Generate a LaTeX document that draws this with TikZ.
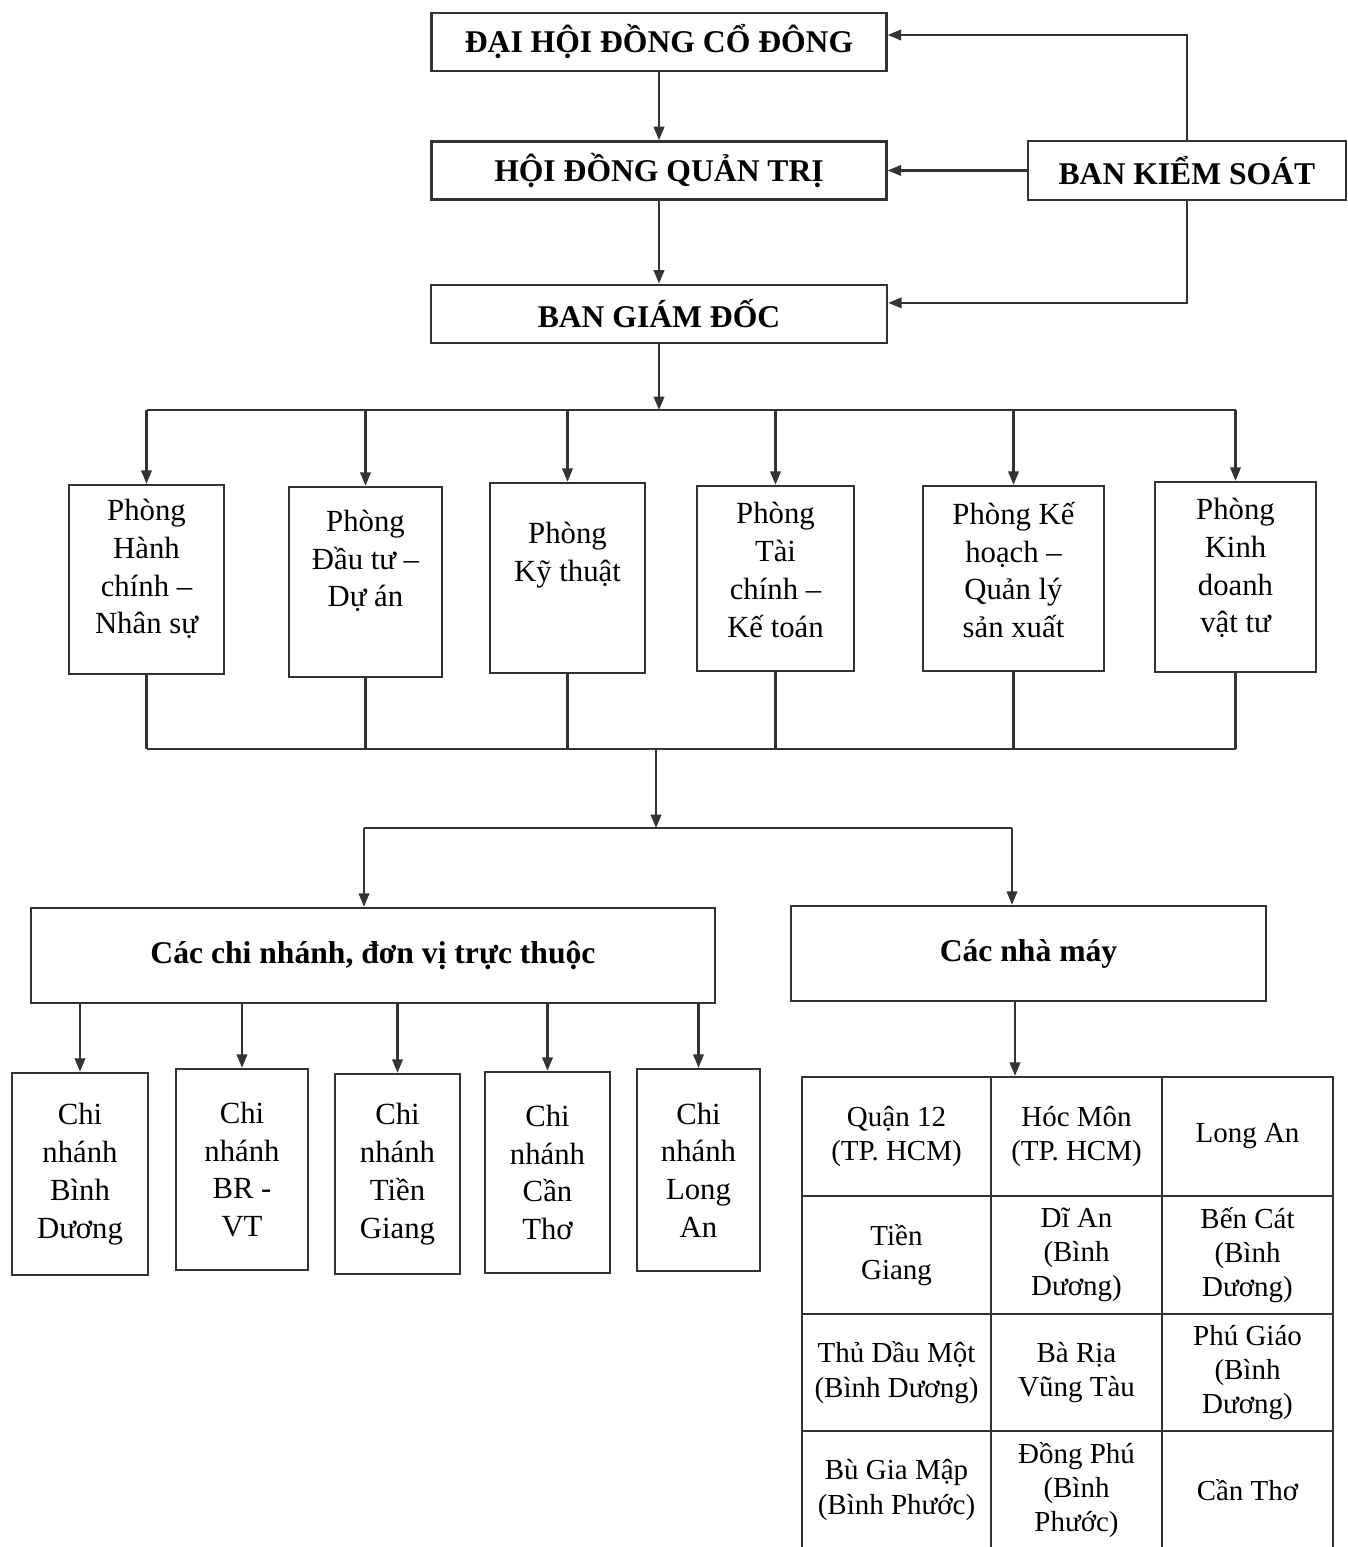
\documentclass[tikz,border=0pt]{standalone}
\usepackage{fontspec}
\setmainfont{Liberation Serif}
\usetikzlibrary{positioning, arrows.meta}

\begin{document}
\begin{tikzpicture}[x=0.02cm, y=-0.02cm]
        % Styles des noeuds
        \tikzstyle{titre} = [rectangle, draw=black!80, line width=1.4pt, minimum height=1.16cm, inner sep=0pt, font=\bfseries\fontsize{18}{21}\selectfont]
        \tikzstyle{dept} = [rectangle, draw=black!80, line width=1.4pt, inner sep=0pt]
        \tikzstyle{texte} = [align=center, inner sep=0pt, font=\fontsize{17.5}{21.5}\selectfont]
        \tikzstyle{branche} = [rectangle, draw=black!80, line width=1.4pt, inner sep=0pt, align=center, font=\fontsize{17.5}{21.5}\selectfont]
        \tikzstyle{cellule} = [rectangle, draw=black!80, line width=1.3pt, inner sep=0pt, align=center, font=\fontsize{16.5}{19.5}\selectfont]
        \tikzstyle{arrow} = [draw=black!80, line width=1.3pt, -{Triangle[length=0.27cm, width=0.21cm]}]
        \tikzstyle{trait} = [draw=black!80, line width=1.3pt]

        \useasboundingbox (0,0) rectangle (1347,1547);

        % Direction
        \node (dhcd) [titre, minimum width=9.1cm] at (659,42) {ĐẠI HỘI ĐỒNG CỔ ĐÔNG};
        \node (hdqt) [titre, minimum width=9.1cm, below=1.36cm of dhcd] {HỘI ĐỒNG QUẢN TRỊ};
        \node (bgd) [titre, minimum width=9.12cm, below=1.66cm of hdqt] {BAN GIÁM ĐỐC};
        \node (bks) [titre, minimum width=6.36cm, minimum height=1.18cm, right=2.78cm of hdqt] {BAN KIỂM SOÁT};

        % Phòng ban
        \node (hc) [dept, minimum width=3.1cm, minimum height=3.78cm] at (146.5,579.5) {};
        \node (dt) [dept, minimum width=3.06cm, minimum height=3.8cm] at (365.5,582) {};
        \node (kt) [dept, minimum width=3.1cm, minimum height=3.8cm] at (567.5,578) {};
        \node (tc) [dept, minimum width=3.14cm, minimum height=3.7cm] at (775.5,578.5) {};
        \node (kh) [dept, minimum width=3.62cm, minimum height=3.7cm] at (1013.5,578.5) {};
        \node (kd) [dept, minimum width=3.22cm, minimum height=3.8cm] at (1235.5,577) {};
        \node (hcT) [texte] at (146.5,569) {Phòng\\Hành\\chính –\\Nhân sự};
        \node (dtT) [texte] at (365.5,561) {Phòng\\Đầu tư –\\Dự án};
        \node (ktT) [texte] at (567.5,555) {Phòng\\Kỹ thuật};
        \node (tcT) [texte] at (775.5,570) {Phòng\\Tài\\chính –\\Kế toán};
        \node (khT) [texte] at (1013.5,570) {Phòng Kế\\hoạch –\\Quản lý\\sản xuất};
        \node (kdT) [texte] at (1235.5,568) {Phòng\\Kinh\\doanh\\vật tư};

        % Chi nhánh et nhà máy
        \node (cn) [titre, minimum width=13.68cm, minimum height=1.9cm] at (373,955.5) {Các chi nhánh, đơn vị trực thuộc};
        \node (nm) [titre, minimum width=9.5cm, minimum height=1.9cm] at (1028.5,953.5) {Các nhà máy};

        \node (cbd) [branche, minimum width=2.72cm, minimum height=4.04cm] at (80,1174) {Chi\\nhánh\\Bình\\Dương};
        \node (cbr) [branche, minimum width=2.64cm, minimum height=4.02cm] at (242,1169.5) {Chi\\nhánh\\BR -\\VT};
        \node (ctg) [branche, minimum width=2.5cm, minimum height=4cm] at (397.5,1174) {Chi\\nhánh\\Tiền\\Giang};
        \node (cct) [branche, minimum width=2.5cm, minimum height=4.02cm] at (547.5,1172.5) {Chi\\nhánh\\Cần\\Thơ};
        \node (cla) [branche, minimum width=2.46cm, minimum height=4.04cm] at (698.5,1170) {Chi\\nhánh\\Long\\An};

        % Tableau des nhà máy
        \node (q12) [cellule, minimum width=3.78cm, minimum height=2.38cm] at (896.5,1136.5) {Quận 12\\(TP. HCM)};
        \node (hm) [cellule, minimum width=3.42cm, minimum height=2.38cm] at (1076.5,1136.5) {Hóc Môn\\(TP. HCM)};
        \node (la) [cellule, minimum width=3.42cm, minimum height=2.38cm] at (1247.5,1136.5) {Long An};
        \node (tg) [cellule, minimum width=3.78cm, minimum height=2.36cm] at (896.5,1255) {Tiền\\Giang};
        \node (da) [cellule, minimum width=3.42cm, minimum height=2.36cm] at (1076.5,1255) {Dĩ An\\(Bình\\Dương)};
        \node (bc) [cellule, minimum width=3.42cm, minimum height=2.36cm] at (1247.5,1255) {Bến Cát\\(Bình\\Dương)};
        \node (tdm) [cellule, minimum width=3.78cm, minimum height=2.34cm] at (896.5,1372.5) {Thủ Dầu Một\\(Bình Dương)};
        \node (brvt) [cellule, minimum width=3.42cm, minimum height=2.34cm] at (1076.5,1372.5) {Bà Rịa\\Vũng Tàu};
        \node (pg) [cellule, minimum width=3.42cm, minimum height=2.34cm] at (1247.5,1372.5) {Phú Giáo\\(Bình\\Dương)};
        \node (bgm) [cellule, minimum width=3.78cm, minimum height=2.36cm] at (896.5,1490) {Bù Gia Mập\\(Bình Phước)};
        \node (dp) [cellule, minimum width=3.42cm, minimum height=2.36cm] at (1076.5,1490) {Đồng Phú\\(Bình\\Phước)};
        \node (ctho) [cellule, minimum width=3.42cm, minimum height=2.36cm] at (1247.5,1490) {Cần Thơ};

        % Points de jonction
        \coordinate (bus1) at (659,410);
        \coordinate (bus2) at (656,749);
        \coordinate (bus3) at (656,828);
        \coordinate (bus3l) at (364,828);
        \coordinate (bus3r) at (1012,828);
        \coordinate (nmbas) at (1015,1001);

        % Flèches
        \draw [arrow] (dhcd) -- (hdqt);
        \draw [arrow] (hdqt) -- (bgd);
        \draw [arrow] (bks.west) -- (hdqt.east);
        \draw [arrow] (bks.north) |- ([yshift=0.14cm]dhcd.east);
        \draw [arrow] (bks.south) |- ([yshift=0.22cm]bgd.east);
        \draw [arrow] (bgd.south) -- (bgd.south |- bus1);
        \draw [trait] (hc.north |- bus1) -- (kd.north |- bus1);
        \draw [arrow] (hc.north |- bus1) -- (hc.north);
        \draw [arrow] (dt.north |- bus1) -- (dt.north);
        \draw [arrow] (kt.north |- bus1) -- (kt.north);
        \draw [arrow] (tc.north |- bus1) -- (tc.north);
        \draw [arrow] (kh.north |- bus1) -- (kh.north);
        \draw [arrow] (kd.north |- bus1) -- (kd.north);

        \draw [trait] (hc.south) -- (hc.south |- bus2);
        \draw [trait] (dt.south) -- (dt.south |- bus2);
        \draw [trait] (kt.south) -- (kt.south |- bus2);
        \draw [trait] (tc.south) -- (tc.south |- bus2);
        \draw [trait] (kh.south) -- (kh.south |- bus2);
        \draw [trait] (kd.south) -- (kd.south |- bus2);
        \draw [trait] (hc.south |- bus2) -- (kd.south |- bus2);
        \draw [arrow] (bus2) -- (bus3);
        \draw [trait] (bus3l) -- (bus3r);
        \draw [arrow] (bus3l) -- (bus3l |- cn.north);
        \draw [arrow] (bus3r) -- (bus3r |- nm.north);

        \draw [arrow] (cn.south -| cbd) -- (cbd.north);
        \draw [arrow] (cn.south -| cbr) -- (cbr.north);
        \draw [arrow] (cn.south -| ctg) -- (ctg.north);
        \draw [arrow] (cn.south -| cct) -- (cct.north);
        \draw [arrow] (cn.south -| cla) -- (cla.north);
        \draw [arrow] (nmbas) -- (nmbas |- hm.north);
\end{tikzpicture}
\end{document}
